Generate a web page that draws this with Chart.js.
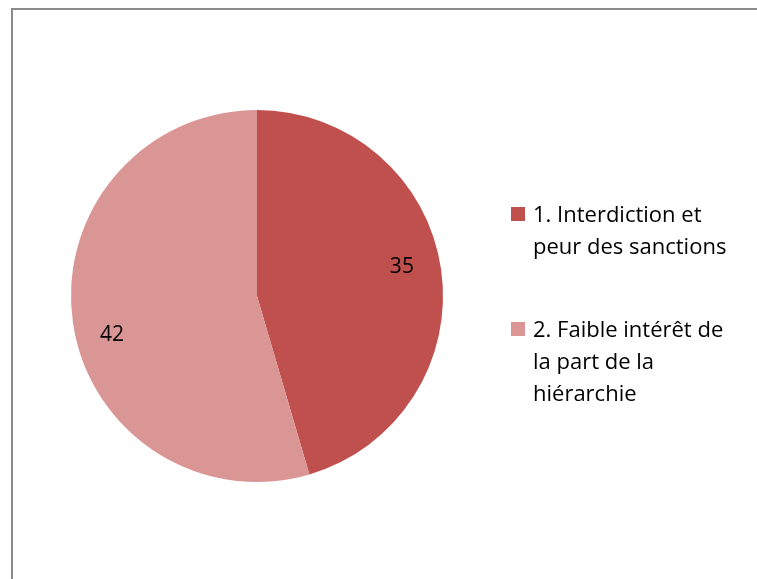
<!DOCTYPE html>
<html>
<head>
<meta charset="utf-8">
<script src="https://cdn.jsdelivr.net/npm/chart.js@4.4.0/dist/chart.umd.min.js"></script>
<style>
  html, body { margin: 0; padding: 0; background: #fff; }
  #wrap { position: relative; width: 757px; height: 579px; }
</style>
</head>
<body>
<div id="wrap"><canvas id="pie-chart" width="757" height="579"></canvas></div>
<script>
const categories = ['1. Interdiction et peur des sanctions', '2. Faible intérêt de la part de la hiérarchie'];
const legendLines = [
    ['1. Interdiction et', 'peur des sanctions'],
    ['2. Faible intérêt de', 'la part de la', 'hiérarchie']
];
const values = [35, 42];
const colors = ['#C0504D', '#D99694'];

const FONT = '"Open Sans", "Noto Sans", sans-serif';

// outer frame of the chart box
const framePlugin = {
    id: 'frame',
    beforeDraw(chart) {
        const ctx = chart.ctx;
        ctx.save();
        ctx.fillStyle = '#fff';
        ctx.fillRect(0, 0, chart.width, chart.height);
        ctx.strokeStyle = '#8a8a8a';
        ctx.lineWidth = 2;
        ctx.beginPath();
        ctx.moveTo(12, chart.height + 5);
        ctx.lineTo(12, 9);
        ctx.lineTo(chart.width + 5, 9);
        ctx.stroke();
        ctx.restore();
    }
};

// value labels inside each slice, nudged a little anticlockwise
const valueLabels = {
    id: 'valueLabels',
    afterDatasetsDraw(chart) {
        const ctx = chart.ctx;
        const meta = chart.getDatasetMeta(0);
        ctx.save();
        ctx.font = '21px ' + FONT;
        ctx.fillStyle = '#000';
        ctx.textAlign = 'center';
        ctx.textBaseline = 'middle';
        meta.data.forEach((arc, i) => {
            const mid = (arc.startAngle + arc.endAngle) / 2 - 5 * Math.PI / 180;
            const r = arc.outerRadius * 0.8;
            const x = arc.x + Math.cos(mid) * r;
            const y = arc.y + Math.sin(mid) * r;
            ctx.fillText(String(values[i]), x, y + 5);
        });
        ctx.restore();
    }
};

// legend on the right with wrapped labels
const sideLegend = {
    id: 'sideLegend',
    afterDraw(chart) {
        const ctx = chart.ctx;
        const starts = [222, 337];
        ctx.save();
        ctx.font = '22px ' + FONT;
        ctx.textBaseline = 'alphabetic';
        legendLines.forEach((lines, i) => {
            ctx.fillStyle = colors[i];
            ctx.fillRect(511, starts[i] - 15, 14, 14);
            ctx.fillStyle = '#000';
            lines.forEach((line, j) => {
                ctx.fillText(line, 533, starts[i] + j * 32);
            });
        });
        ctx.restore();
    }
};

new Chart(document.getElementById('pie-chart').getContext('2d'), {
    type: 'pie',
    data: {
        labels: categories,
        datasets: [{
            data: values,
            backgroundColor: colors,
            borderWidth: 0
        }]
    },
    options: {
        responsive: false,
        animation: false,
        layout: {
            padding: { left: 71, right: 314, top: 110, bottom: 97 }
        },
        plugins: {
            legend: { display: false },
            tooltip: { enabled: false }
        }
    },
    plugins: [framePlugin, valueLabels, sideLegend]
});
</script>
</body>
</html>
